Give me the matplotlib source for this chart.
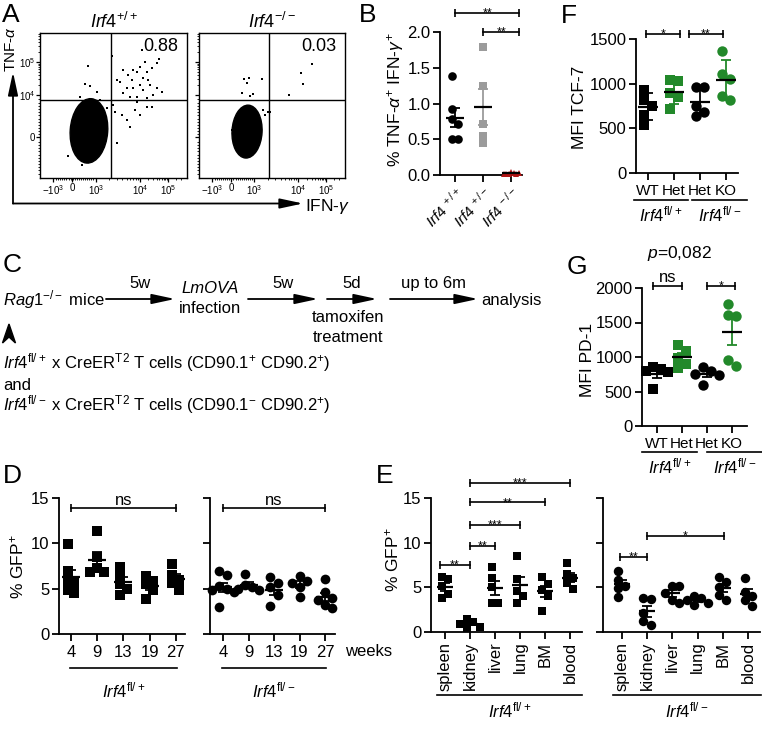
import numpy as np
import matplotlib
matplotlib.use('Agg')
import matplotlib.pyplot as plt
import matplotlib.transforms as mtransforms
from matplotlib.patches import Ellipse, Polygon, FancyArrowPatch

# ---------------- data ----------------
# A: flow cytometry dot plots (channel units 0-1000)
flow_wt_x = [488, 692, 812, 794, 714, 680, 760, 635, 658, 567, 601, 726, 522, 544, 624, 703, 737, 590, 635, 680,
             748, 794, 828, 567, 612, 658, 703, 771, 726, 499, 510, 556, 726, 760, 646, 680, 590, 612, 522, 658,
             454, 442, 329, 306, 340, 385, 272, 193, 215, 283, 408]
flow_wt_y = [841, 883, 818, 791, 802, 768, 756, 745, 733, 745, 710, 733, 676, 664, 676, 687, 676, 618, 618, 641,
             641, 618, 595, 584, 561, 561, 607, 572, 549, 503, 457, 434, 492, 487, 469, 434, 400, 354, 239, 526,
             480, 434, 772, 648, 634, 595, 561, 152, 239, 90, 538]
flow_wt_core = [333, 325, 255, 445, -4]      # dense population: centre x, centre y, width, height, tilt
flow_ko_x = [772, 696, 715, 619, 486, 308, 345, 326, 429, 292, 349, 372, 441, 452, 475, 224]
flow_ko_y = [784, 726, 646, 572, 455, 681, 688, 653, 681, 588, 566, 577, 469, 434, 457, 331]
flow_ko_core = [329, 320, 206, 365, -3]
flow_freq = ['0.88', '0.03']
flow_titles = ['+/+', '-/-']
flow_gate = [480, 540]
flow_xtick_vals = [90, 220, 380, 680, 870]
flow_xtick_labels = [r'$-10^{3}$', '0', r'$10^{3}$', r'$10^{4}$', r'$10^{5}$']
flow_ytick_vals = [280, 570, 800]
flow_ytick_labels = ['0', r'$10^{4}$', r'$10^{5}$']

# B
b_labels = ['+/+', '+/-', '-/-']
b_wt = [1.38, 0.93, 0.79, 0.71, 0.50, 0.50]
b_het = [1.79, 1.24, 0.71, 0.55, 0.45]
b_ko = [0.04, 0.03, 0.02, 0.02, 0.01, 0.03, 0.01]
b_sig = [(0, 2.3, '**', 2.27), (1, 2.3, '**', 2.0)]

# F (MFI TCF-7) and G (MFI PD-1)
fg_labels = ['WT', 'Het', 'Het', 'KO']
f_wt = [933, 821, 754, 653, 541]
f_het = [1040, 1030, 900, 850, 720]
f_het2 = [965, 960, 750, 680, 640]
f_ko = [1370, 1110, 1050, 860, 820]
f_sig = [(-0.08, 1.23, '*', 1556), (1.58, 2.88, '**', 1556)]
g_wt = [860, 820, 790, 780, 530]
g_het = [1170, 1080, 980, 900, 840]
g_het2 = [860, 790, 760, 740, 600]
g_ko = [1770, 1610, 1590, 960, 870]
g_sig = [(-0.16, 1.0, 'ns', 2030), (2.0, 3.12, '*', 2030)]
g_pvalue = '0,082'

# D (% GFP+ over time)
d_weeks = ['4', '9', '13', '19', '27']
d_flplus = [[9.9, 7.0, 5.9, 5.6, 4.8, 4.5], [11.4, 8.5, 7.3, 6.8, 6.8], [7.4, 6.5, 5.5, 5.0, 4.3],
            [6.4, 5.8, 5.5, 4.9, 3.9], [7.7, 6.5, 6.0, 5.6, 4.8]]
d_flminus = [[6.9, 6.5, 5.3, 5.0, 4.9, 4.6, 3.0], [6.6, 5.4, 5.2, 5.0, 4.9], [6.3, 5.6, 5.2, 4.3, 3.1],
             [6.4, 5.9, 5.6, 5.2, 4.1], [6.1, 4.6, 4.0, 3.7, 3.2, 2.9]]
d_sig_y = 13.9

# E (% GFP+ per organ)
e_organs = ['spleen', 'kidney', 'liver', 'lung', 'BM', 'blood']
e_flplus = [[6.2, 5.9, 5.1, 4.3, 3.8], [1.4, 1.1, 0.9, 0.6, 0.5], [7.3, 6.0, 5.0, 3.2, 3.2],
            [8.5, 5.9, 4.6, 4.0, 3.3], [6.2, 5.4, 4.7, 4.0, 2.4], [7.7, 6.5, 6.0, 5.5, 4.8]]
e_flminus = [[6.8, 5.8, 5.2, 4.9, 3.9], [3.8, 3.7, 2.1, 1.2, 0.8], [5.2, 5.2, 4.4, 3.6, 3.3],
             [4.0, 3.8, 3.6, 3.3, 3.0], [6.2, 5.6, 5.0, 4.1, 3.6], [6.1, 4.5, 4.0, 3.6, 2.9]]
e_sig_plus = [(-0.2, 1, '**', 7.5), (1, 2, '**', 9.6), (1, 3, '***', 12.0), (1, 4, '**', 14.5), (1, 5, '***', 16.7)]
e_sig_minus = [(-0.08, 1, '**', 8.4), (1, 4.05, '*', 10.7)]

# ---------------- figure setup ----------------
W, H, DPI = 762, 729, 100
plt.rcParams['font.family'] = ['Liberation Sans', 'DejaVu Sans']
plt.rcParams['mathtext.fontset'] = 'custom'
plt.rcParams['mathtext.rm'] = 'Liberation Sans'
plt.rcParams['mathtext.it'] = 'Liberation Sans:italic'
plt.rcParams['mathtext.bf'] = 'Liberation Sans:bold'
plt.rcParams['mathtext.sf'] = 'Liberation Sans'

fig = plt.figure(figsize=(W / DPI, H / DPI), dpi=DPI)
GREEN = '#22892a'
GRAY = '#9b9b9b'
RED = '#b01414'
TICK_FS = 12


def fx(x):
    return x / W


def fy(y):
    return 1 - y / H


def add_ax(l, t, r, b):
    return fig.add_axes([l / W, 1 - b / H, (r - l) / W, (b - t) / H])


def irf(sup):
    return r'$\mathit{Irf4}^{\mathrm{' + sup + '}}$'


def style(ax, labelsize=TICK_FS):
    for s in ['top', 'right']:
        ax.spines[s].set_visible(False)
    for s in ['left', 'bottom']:
        ax.spines[s].set_linewidth(1.3)
    ax.tick_params(direction='out', length=5, width=1.3, labelsize=labelsize, pad=2)
    ax.patch.set_visible(False)


def scale(ax):
    bb = ax.get_position()
    x0, x1 = ax.get_xlim()
    y0, y1 = ax.get_ylim()
    return bb.width * W / (x1 - x0), bb.height * H / (y1 - y0)


def swarm(ax, vals, step, ytol):
    """deterministic column scatter: points closer than ytol in height are shifted sideways"""
    sx, sy = scale(ax)
    placed, offs = [], []
    for v in vals:
        yp = v * sy
        dx = 0
        for k in [0, 1, -1, 2, -2, 3, -3]:
            dx = k * step
            if all(abs(yp - py) >= ytol or abs(dx - px) >= step * 0.99 for px, py in placed):
                break
        placed.append((dx, yp))
        offs.append(dx / sx)
    offs = np.array(offs)
    return offs - (offs.max() + offs.min()) / 2


def dots(ax, pos, vals, color, marker, ms, err='sem', ecolor='k', mean_px=9, cap=3.5, step=None, lw=1.3):
    ms_px = ms * DPI / 72
    offs = swarm(ax, vals, step if step else ms_px * 0.75, ms_px * 0.85)
    ax.plot(pos + offs, vals, ls='none', marker=marker, ms=ms, color=color, mew=0, clip_on=False, zorder=3)
    v = np.asarray(vals, dtype=float)
    m = v.mean()
    sd = v.std(ddof=1)
    e = sd if err == 'sd' else sd / np.sqrt(len(v))
    sx, _ = scale(ax)
    ax.errorbar([pos], [m], yerr=[e], fmt='none', ecolor=ecolor, elinewidth=lw, capsize=cap,
                capthick=lw, zorder=4, clip_on=False)
    ax.plot([pos - mean_px / sx, pos + mean_px / sx], [m, m], color='k', lw=lw + 0.3, zorder=5,
            solid_capstyle='butt', clip_on=False)


def bracket(ax, x0, x1, y, label, fs=9):
    ax.plot([x0, x1], [y, y], color='k', lw=1.2, clip_on=False, marker='|', ms=6, mew=1.2)
    if '*' in label:
        ax.annotate(label, ((x0 + x1) / 2, y), xytext=(0, -2.5), textcoords='offset points',
                    ha='center', va='baseline', fontsize=fs, annotation_clip=False)
    else:
        ax.annotate(label, ((x0 + x1) / 2, y), xytext=(0, 2.5), textcoords='offset points',
                    ha='center', va='baseline', fontsize=12, annotation_clip=False)


def group_line(ax, x0, x1, dy, label, ldy, fs=12):
    tr = ax.get_xaxis_transform() + mtransforms.ScaledTranslation(0, -dy / DPI, fig.dpi_scale_trans)
    ax.plot([x0, x1], [0, 0], transform=tr, color='k', lw=1.2, clip_on=False)
    tr2 = ax.get_xaxis_transform() + mtransforms.ScaledTranslation(0, -ldy / DPI, fig.dpi_scale_trans)
    ax.text((x0 + x1) / 2, 0, label, transform=tr2, ha='center', va='center', fontsize=fs)


def arrow(x0, y0, x1, y1, lw=1.3):
    fig.add_artist(FancyArrowPatch((fx(x0), fy(y0)), (fx(x1), fy(y1)), transform=fig.transFigure,
                                   arrowstyle='-|>,head_length=1.4,head_width=0.3', mutation_scale=10,
                                   lw=lw, color='k', shrinkA=0, shrinkB=0))


def letter(x, y, s):
    fig.text(fx(x), fy(y), s, fontsize=19, ha='center', va='center')


# ---------------- panel A ----------------
for i, (box, xs, ys, core) in enumerate([((40, 33, 187, 178), flow_wt_x, flow_wt_y, flow_wt_core),
                                         ((199, 33, 345, 178), flow_ko_x, flow_ko_y, flow_ko_core)]):
    ax = add_ax(*box)
    ax.set_xlim(0, 1000)
    ax.set_ylim(0, 1000)
    ax.add_patch(Ellipse((core[0], core[1]), core[2], core[3], angle=core[4], facecolor='k', edgecolor='k', lw=1))
    ax.plot(xs, ys, 's', ms=1.8, color='k', mew=0)
    ax.axvline(flow_gate[0], color='k', lw=1.0)
    ax.axhline(flow_gate[1], color='k', lw=1.0)
    ax.text(0.94, 0.905, flow_freq[i], transform=ax.transAxes, ha='right', va='center', fontsize=13)
    ax.set_xticks(flow_xtick_vals)
    ax.set_xticklabels(flow_xtick_labels)
    ax.set_yticks(flow_ytick_vals)
    ax.set_yticklabels(flow_ytick_labels if i == 0 else [])
    minx = [380 + 300 * np.log10(k) for k in range(2, 10)] + [680 + 190 * np.log10(k) for k in range(2, 10)] \
        + [870 + 190 * np.log10(k) for k in range(2, 4)] + list(np.arange(110, 370, 14))
    miny = [570 + 230 * np.log10(k) for k in range(2, 10)] + [800 + 230 * np.log10(k) for k in range(2, 8)] \
        + list(np.arange(300, 560, 22)) + list(np.arange(30, 270, 22))
    ax.set_xticks(minx, minor=True)
    ax.set_yticks(miny, minor=True)
    for s in ax.spines.values():
        s.set_linewidth(1.0)
    ax.tick_params(which='major', direction='out', length=3, width=0.9, labelsize=7, pad=0.5)
    ax.tick_params(which='minor', direction='out', length=1.6, width=0.6)
    fig.text(fx((box[0] + box[2]) / 2), fy(28), irf(flow_titles[i]), ha='center', va='baseline', fontsize=13)

arrow(13, 203.5, 13, 72)
arrow(13, 203.5, 303, 203.5)
fig.text(fx(11), fy(49), r'TNF-$\alpha$', rotation=90, ha='center', va='center', fontsize=11)
fig.text(fx(305), fy(206), r'IFN-$\gamma$', ha='left', va='center', fontsize=12.5)
letter(11, 15, 'A')

# ---------------- panel B ----------------
axb = add_ax(440, 32, 522, 175)
axb.set_xlim(-0.54, 2.39)
axb.set_ylim(0, 2.0)
style(axb, 12)
dots(axb, 0, b_wt, 'k', 'o', 6.2, ecolor='k')
dots(axb, 1, b_het, GRAY, 's', 6.0, ecolor=GRAY)
dots(axb, 2, b_ko, RED, '^', 5.0, ecolor=RED, step=2.5)
axb.set_yticks([0, 0.5, 1.0, 1.5, 2.0])
axb.set_yticklabels(['0.0', '0.5', '1.0', '1.5', '2.0'])
axb.set_xticks([0, 1, 2])
axb.set_xticklabels([r'$\mathit{Irf4}^{\ ' + s + '}$' for s in b_labels], rotation=45, ha='right',
                    rotation_mode='anchor', fontsize=11)
for x0, x1, lab, y in b_sig:
    bracket(axb, x0, x1, y, lab)
fig.text(fx(395), fy(100), r'% TNF-$\alpha^{+}$ IFN-$\gamma^{+}$', rotation=90, ha='center', va='center',
         fontsize=12.5)
letter(368, 15, 'B')

# ---------------- panel F ----------------
axf = add_ax(636, 39, 738, 173)
axf.set_xlim(-0.46, 3.46)
axf.set_ylim(0, 1500)
style(axf)
dots(axf, 0, f_wt, 'k', 's', 7, err='sd', ecolor='k', mean_px=10)
dots(axf, 1, f_het, GREEN, 's', 7, err='sd', ecolor=GREEN, mean_px=10)
dots(axf, 2, f_het2, 'k', 'o', 7.5, err='sd', ecolor='k', mean_px=10)
dots(axf, 3, f_ko, GREEN, 'o', 7.5, err='sd', ecolor=GREEN, mean_px=10)
axf.set_yticks([0, 500, 1000, 1500])
axf.set_xticks(range(4))
axf.set_xticklabels(fg_labels, fontsize=11)
axf.tick_params(axis='x', pad=3)
for x0, x1, lab, y in f_sig:
    bracket(axf, x0, x1, y, lab)
group_line(axf, -0.54, 1.54, 27, irf('fl/+'), 41)
group_line(axf, 1.69, 3.8, 27, irf('fl/-'), 41)
fig.text(fx(580), fy(107), 'MFI TCF-7', rotation=90, ha='center', va='center', fontsize=12.5)
letter(569, 16, 'F')

# ---------------- panel G ----------------
axg = add_ax(642, 288, 747, 426)
axg.set_xlim(-0.6, 3.6)
axg.set_ylim(0, 2000)
style(axg)
dots(axg, 0, g_wt, 'k', 's', 7, ecolor='k', mean_px=10)
dots(axg, 1, g_het, GREEN, 's', 7, ecolor=GREEN, mean_px=10)
dots(axg, 2, g_het2, 'k', 'o', 7.5, ecolor='k', mean_px=10)
dots(axg, 3, g_ko, GREEN, 'o', 7.5, ecolor=GREEN, mean_px=10)
axg.set_yticks([0, 500, 1000, 1500, 2000])
axg.set_xticks(range(4))
axg.set_xticklabels(fg_labels, fontsize=11)
axg.tick_params(axis='x', pad=3)
for x0, x1, lab, y in g_sig:
    bracket(axg, x0, x1, y, lab)
axg.annotate(r'$\mathit{p}$=' + g_pvalue, (0.9, 2030), xytext=(0, 20), textcoords='offset points',
             ha='center', va='baseline', fontsize=12.5, annotation_clip=False)
group_line(axg, -0.6, 1.6, 26, irf('fl/+'), 40)
group_line(axg, 2.0, 4.2, 26, irf('fl/-'), 40)
fig.text(fx(587), fy(360), 'MFI PD-1', rotation=90, ha='center', va='center', fontsize=12.5)
letter(577, 267, 'G')

# ---------------- panel C ----------------
FS_C = 12
fig.text(fx(3), fy(305), r'$\mathit{Rag1}^{-/-}$ mice', ha='left', va='baseline', fontsize=FS_C)
for (x0, x1), lab in zip([(106, 175), (248, 318), (327, 377), (390, 478)], ['5w', '5w', '5d', 'up to 6m']):
    arrow(x0, 299, x1, 299)
    fig.text(fx((x0 + x1) / 2), fy(288), lab, ha='center', va='baseline', fontsize=FS_C)
fig.text(fx(210), fy(293), 'LmOVA', ha='center', va='baseline', fontsize=FS_C, style='italic')
fig.text(fx(210), fy(313), 'infection', ha='center', va='baseline', fontsize=FS_C)
fig.text(fx(348), fy(322), 'tamoxifen', ha='center', va='baseline', fontsize=FS_C)
fig.text(fx(348), fy(342), 'treatment', ha='center', va='baseline', fontsize=FS_C)
fig.text(fx(481), fy(305), 'analysis', ha='left', va='baseline', fontsize=FS_C)
fig.add_artist(Polygon([(fx(9), fy(324)), (fx(15.5), fy(343)), (fx(9), fy(337)), (fx(2.5), fy(343))],
                       closed=True, transform=fig.transFigure, color='k'))
fig.text(fx(3), fy(368), irf('fl/+') + r' x CreER$^{\mathrm{T2}}$ T cells (CD90.1$^{+}$ CD90.2$^{+}$)',
         ha='left', va='baseline', fontsize=FS_C)
fig.text(fx(3), fy(390), 'and', ha='left', va='baseline', fontsize=FS_C)
fig.text(fx(3), fy(410), irf('fl/-') + r' x CreER$^{\mathrm{T2}}$ T cells (CD90.1$^{-}$ CD90.2$^{+}$)',
         ha='left', va='baseline', fontsize=FS_C)
letter(12, 265, 'C')

# ---------------- panel D ----------------
axd1 = add_ax(59, 498, 185, 634)
axd1.set_xlim(-0.46, 4.35)
axd2 = add_ax(210, 498, 335, 634)
axd2.set_xlim(-0.51, 4.39)
for ax, data, mk, lab in [(axd1, d_flplus, 's', irf('fl/+')), (axd2, d_flminus, 'o', irf('fl/-'))]:
    ax.set_ylim(0, 15)
    style(ax)
    for i, vals in enumerate(data):
        dots(ax, i, vals, 'k', mk, 6.5 if mk == 's' else 7, mean_px=9)
    ax.set_yticks([0, 5, 10, 15])
    ax.set_xticks(range(5))
    ax.set_xticklabels(d_weeks)
    ax.tick_params(axis='x', pad=3)
    bracket(ax, 0, 4, d_sig_y, 'ns')
    group_line(ax, -0.05, 4.05, 34, lab, 56)
axd2.set_yticklabels([])
fig.text(fx(345), fy(651), 'weeks', ha='left', va='center', fontsize=TICK_FS)
fig.text(fx(17), fy(567), r'% GFP$^{+}$', rotation=90, ha='center', va='center', fontsize=12.5)
letter(12, 476, 'D')

# ---------------- panel E ----------------
axe1 = add_ax(431, 498, 582, 632)
axe1.set_xlim(-0.56, 5.48)
axe2 = add_ax(603, 498, 760, 632)
axe2.set_xlim(-0.74, 5.47)
for ax, data, mk, sig, lab, gl in [(axe1, e_flplus, 's', e_sig_plus, irf('fl/+'), (-0.32, 5.48)),
                                   (axe2, e_flminus, 'o', e_sig_minus, irf('fl/-'), (-0.35, 5.5))]:
    ax.set_ylim(0, 15)
    style(ax)
    for i, vals in enumerate(data):
        dots(ax, i, vals, 'k', mk, 6.3 if mk == 's' else 6.8, mean_px=8)
    ax.set_yticks([0, 5, 10, 15])
    ax.set_xticks(range(6))
    ax.set_xticklabels(e_organs, rotation=90, ha='center', va='top')
    for x0, x1, lb, y in sig:
        bracket(ax, x0, x1, y, lb)
    group_line(ax, gl[0], gl[1], 63, lab, 78)
axe2.set_yticklabels([])
fig.text(fx(392), fy(560), r'% GFP$^{+}$', rotation=90, ha='center', va='center', fontsize=12.5)
letter(385, 476, 'E')

fig.savefig('out.png', dpi=DPI)
